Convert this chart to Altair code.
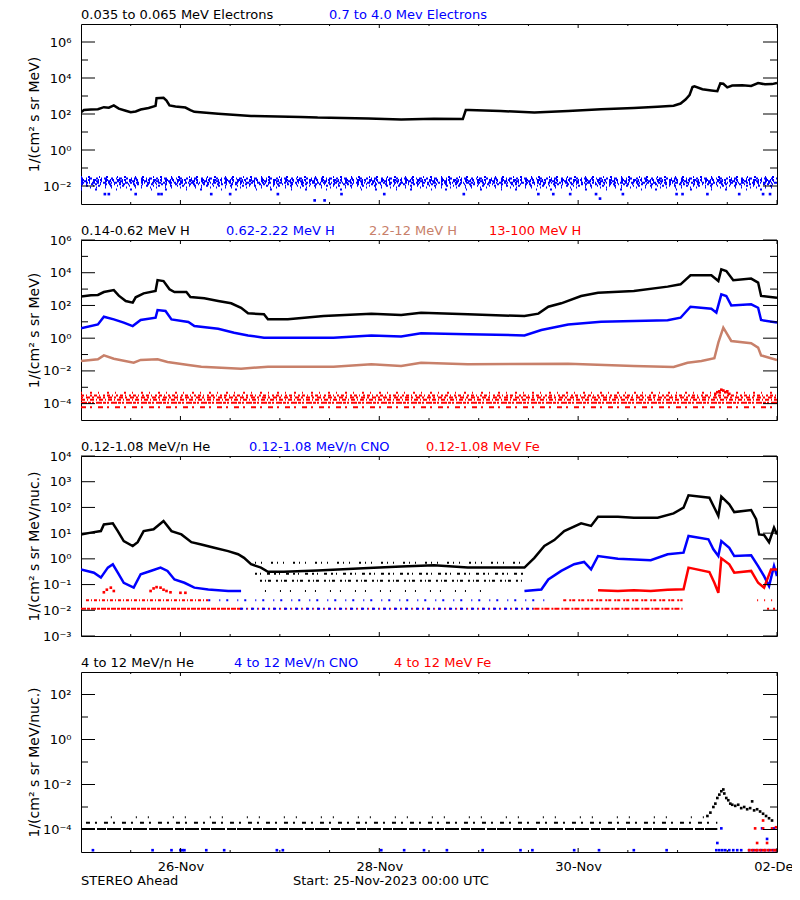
import altair as alt
import pandas as pd

FONT = "DejaVu Sans"
BLACK, BLUE, BROWN, RED = "#000000", "#0000ff", "#c8806a", "#ff0000"
W, H = 696, 180

# ---------------- text ----------------
X_MAJOR_DAYS = [1, 3, 5, 7]
X_MAJOR_LABELS = ["26-Nov", "28-Nov", "30-Nov", "02-Dec"]
X_MINOR_DAYS = [0.5, 1.5, 2, 2.5, 3.5, 4, 4.5, 5.5, 6, 6.5]
FOOTER_TEXTS = ["STEREO Ahead", "Start: 25-Nov-2023 00:00 UTC"]
HEAD1 = ["0.035 to 0.065 MeV Electrons", "0.7 to 4.0 Mev Electrons"]
HEAD2 = ["0.14-0.62 MeV H", "0.62-2.22 MeV H", "2.2-12 MeV H", "13-100 MeV H"]
HEAD3 = ["0.12-1.08 MeV/n He", "0.12-1.08 MeV/n CNO", "0.12-1.08 MeV Fe"]
HEAD4 = ["4 to 12 MeV/n He", "4 to 12 MeV/n CNO", "4 to 12 MeV Fe"]
YTITLE_A = "1/(cm² s sr MeV)"
YTITLE_B = "1/(cm² s sr MeV/nuc.)"

# ---------------- data (day since 25-Nov-2023 00:00, log10 flux) ----------------
# Panel 1 : electrons
E_LO_DAYS = [0.0, 0.03, 0.10, 0.17, 0.23, 0.28, 0.33, 0.38, 0.45, 0.50, 0.55, 0.60, 0.68, 0.75, 0.76,
             0.83, 0.86, 0.89, 0.95, 1.05, 1.10, 1.14, 1.38, 1.71, 2.21, 2.38, 2.89, 3.22, 3.55, 3.84,
             3.87, 3.90, 4.22, 4.56, 4.90, 5.23, 5.56, 5.80, 5.96, 6.03, 6.08, 6.12, 6.15, 6.17, 6.25,
             6.34, 6.40, 6.43, 6.46, 6.50, 6.55, 6.65, 6.74, 6.81, 6.88, 6.95, 7.0]
E_LO_LOG = [2.10, 2.22, 2.25, 2.27, 2.38, 2.35, 2.48, 2.30, 2.18, 2.10, 2.14, 2.25, 2.33, 2.45, 2.88,
            2.90, 2.75, 2.48, 2.42, 2.36, 2.22, 2.12, 2.02, 1.89, 1.84, 1.80, 1.75, 1.70, 1.73, 1.72,
            2.22, 2.22, 2.17, 2.08, 2.16, 2.27, 2.33, 2.40, 2.46, 2.58, 2.80, 3.05, 3.50, 3.54, 3.38,
            3.31, 3.27, 3.70, 3.68, 3.48, 3.58, 3.60, 3.56, 3.72, 3.65, 3.66, 3.73]
E_HI_ROW_LEVELS = [-1.50, -1.58, -1.66, -1.74, -1.82, -1.90, -1.98, -2.08, -2.20]
E_HI_OUT_DAYS = [0.24, 0.28, 0.55, 0.78, 0.81, 1.31, 1.50, 1.98, 2.35, 2.45, 2.62, 3.05, 3.85,
                 4.60, 4.75, 4.92, 5.18, 5.22, 5.45, 5.99, 6.05, 6.30, 6.62, 6.86, 6.93]
E_HI_OUT_LOG = [-2.45, -2.45, -2.45, -2.45, -2.45, -2.45, -2.45, -2.45, -2.80, -2.80, -2.45, -2.45, -2.45,
                -2.45, -2.45, -2.45, -2.45, -2.70, -2.45, -2.45, -2.45, -2.45, -2.45, -2.45, -2.45]

# Panel 2 : protons
H1_DAYS = [0.0, 0.10, 0.17, 0.23, 0.33, 0.38, 0.45, 0.52, 0.55, 0.63, 0.75, 0.77, 0.83, 0.89, 0.94,
           1.06, 1.10, 1.24, 1.38, 1.51, 1.61, 1.68, 1.84, 1.88, 2.08, 2.44, 2.92, 3.22, 3.42, 3.89,
           4.46, 4.60, 4.70, 4.83, 5.03, 5.20, 5.56, 5.90, 6.03, 6.13, 6.34, 6.41, 6.44, 6.49, 6.56,
           6.74, 6.81, 6.84, 7.0]
H1_LOG = [2.55, 2.62, 2.64, 2.82, 2.94, 2.60, 2.27, 2.17, 2.50, 2.74, 2.88, 3.55, 3.49, 2.99, 2.82,
          2.82, 2.52, 2.44, 2.27, 2.13, 1.86, 1.52, 1.46, 1.15, 1.15, 1.35, 1.50, 1.42, 1.56, 1.46,
          1.35, 1.50, 1.92, 2.13, 2.58, 2.78, 2.88, 3.15, 3.29, 3.84, 3.84, 3.49, 4.21, 4.10, 3.54,
          3.64, 3.40, 2.58, 2.47]
H2_DAYS = [0.0, 0.17, 0.23, 0.33, 0.43, 0.52, 0.60, 0.75, 0.77, 0.85, 0.91, 1.08, 1.14, 1.38, 1.54,
           1.68, 1.84, 2.54, 2.92, 3.22, 3.42, 3.89, 4.46, 4.63, 4.90, 5.23, 5.90, 6.03, 6.13, 6.34,
           6.39, 6.44, 6.49, 6.54, 6.74, 6.81, 6.84, 7.0]
H2_LOG = [0.60, 0.84, 1.31, 1.15, 0.95, 0.74, 1.11, 1.25, 1.72, 1.66, 1.15, 0.99, 0.74, 0.58, 0.33,
          0.17, 0.03, 0.03, 0.17, 0.10, 0.30, 0.24, 0.17, 0.50, 0.84, 1.00, 1.09, 1.25, 1.92, 1.80,
          1.56, 2.68, 2.58, 2.00, 2.07, 1.86, 1.11, 0.95]
H3_DAYS = [0.0, 0.17, 0.23, 0.33, 0.53, 0.60, 0.77, 0.87, 1.08, 1.21, 1.61, 1.88, 2.54, 2.92, 3.22,
           3.42, 3.89, 4.90, 5.56, 5.96, 6.10, 6.24, 6.37, 6.41, 6.46, 6.54, 6.74, 6.81, 6.84, 7.0]
H3_LOG = [-1.40, -1.29, -1.05, -1.26, -1.50, -1.33, -1.29, -1.46, -1.64, -1.74, -1.87, -1.74, -1.74,
          -1.60, -1.70, -1.50, -1.60, -1.56, -1.70, -1.76, -1.50, -1.40, -1.23, -0.27, 0.64, -0.17,
          -0.31, -0.58, -1.05, -1.33]
H4_ROW_LEVELS = [-3.33, -3.50, -3.62, -3.76, -3.95, -4.22]
H4_SPIKE_DAYS = [6.38, 6.40, 6.42, 6.44, 6.46, 6.48, 6.50, 6.52]
H4_SPIKE_LOG = [-3.40, -3.30, -3.25, -3.15, -3.20, -3.30, -3.25, -3.40]

# Panel 3 : low-energy heavy ions
HE_DAYS = [0.0, 0.10, 0.20, 0.23, 0.32, 0.37, 0.43, 0.52, 0.57, 0.63, 0.73, 0.83, 0.91, 1.01, 1.11,
           1.21, 1.34, 1.48, 1.58, 1.64, 1.71, 1.81, 1.88, 2.04, 2.38, 2.89, 3.22, 3.55, 3.89, 4.22,
           4.46, 4.56, 4.66, 4.76, 4.86, 5.03, 5.13, 5.20, 5.40, 5.56, 5.80, 5.96, 6.06, 6.11, 6.32,
           6.37, 6.41, 6.44, 6.52, 6.57, 6.74, 6.79, 6.82, 6.87, 6.92, 6.97, 7.0]
HE_LOG = [0.95, 1.02, 1.08, 1.34, 1.38, 1.08, 0.69, 0.50, 0.65, 1.08, 1.15, 1.47, 1.08, 0.95, 0.65,
          0.56, 0.43, 0.30, 0.18, 0.04, -0.21, -0.34, -0.50, -0.50, -0.45, -0.36, -0.30, -0.25, -0.34,
          -0.34, -0.34, 0.04, 0.50, 0.73, 1.08, 1.38, 1.28, 1.64, 1.64, 1.60, 1.60, 1.77, 1.99, 2.47,
          2.38, 1.99, 1.67, 2.42, 2.12, 1.82, 1.90, 1.54, 0.95, 0.93, 0.65, 1.21, 0.95]
CNO_A_DAYS = [0.0, 0.13, 0.20, 0.27, 0.32, 0.37, 0.43, 0.53, 0.60, 0.70, 0.80, 0.87, 0.94, 1.04,
              1.14, 1.28, 1.48, 1.61]
CNO_A_LOG = [-0.41, -0.54, -0.73, -0.34, -0.21, -0.54, -0.93, -1.12, -0.60, -0.47, -0.34, -0.47,
             -0.80, -0.93, -1.12, -1.19, -1.25, -1.25]
CNO_B_DAYS = [4.46, 4.63, 4.70, 4.83, 4.96, 5.06, 5.13, 5.20, 5.40, 5.73, 5.90, 6.06, 6.11, 6.31,
              6.36, 6.41, 6.44, 6.52, 6.57, 6.74, 6.81, 6.87, 6.92, 6.97, 7.0]
CNO_B_LOG = [-1.25, -1.19, -0.80, -0.47, -0.21, -0.12, -0.41, 0.11, 0.00, -0.05, 0.18, 0.24, 0.89,
             0.76, 0.37, 0.11, 0.69, 0.43, 0.11, 0.14, -0.28, -0.67, -1.06, -0.28, -0.67]
FE_DAYS = [5.20, 5.40, 5.56, 5.73, 5.90, 6.06, 6.11, 6.32, 6.37, 6.41, 6.44, 6.52, 6.57, 6.74, 6.81,
           6.87, 6.94, 7.0]
FE_LOG = [-1.22, -1.25, -1.22, -1.25, -1.20, -1.18, -0.34, -0.51, -0.93, -1.32, 0.02, -0.21, -0.54,
          -0.47, -0.93, -1.12, -0.41, -0.41]
FE_EARLY_DAYS = [0.23, 0.26, 0.30, 0.33, 0.70, 0.73, 0.76, 0.80, 0.83, 0.86, 0.90, 1.00, 1.05]
FE_EARLY_LOG = [-1.30, -1.20, -1.12, -1.25, -1.25, -1.15, -1.10, -1.12, -1.20, -1.25, -1.30, -1.32, -1.32]
# quantised count levels: (start day, end day, log10 level)
HE_ROWS = [(1.75, 4.45, -0.15), (1.75, 4.45, -0.58), (1.80, 4.45, -0.85), (1.85, 4.05, -1.25)]
FE_ROWS = [(0.05, 1.28, -1.61), (4.85, 6.05, -1.61), (6.80, 7.00, -1.61),
           (0.00, 1.60, -1.94), (1.60, 4.56, -1.94), (4.56, 6.05, -1.94), (6.90, 6.98, -1.94)]
CNO_ROWS = [(1.28, 4.70, -1.61), (1.60, 4.56, -1.94)]

# Panel 4 : high-energy heavy ions
HE4_ROWS = [(0.30, 6.30, -3.45), (0.05, 6.40, -3.70), (0.00, 6.40, -3.98)]
HE4_EV_DAYS = [6.30, 6.33, 6.36, 6.38, 6.40, 6.42, 6.44, 6.46, 6.47, 6.49, 6.51, 6.53, 6.55, 6.58,
               6.61, 6.64, 6.67, 6.70, 6.73, 6.75, 6.77, 6.80, 6.83, 6.86, 6.89, 6.92, 6.95]
HE4_EV_LOG = [-3.40, -3.25, -3.00, -2.85, -2.60, -2.45, -2.30, -2.22, -2.40, -2.60, -2.70, -2.85,
              -2.90, -2.95, -2.90, -3.05, -3.00, -3.10, -3.05, -2.75, -3.15, -3.10, -3.20, -3.30,
              -3.40, -3.50, -3.60]
CNO4_DAYS = [0.12, 0.72, 0.91, 1.00, 1.02, 1.04, 1.26, 1.44, 1.97, 2.03, 3.02, 3.25, 3.45, 3.68,
             4.04, 4.42, 4.54, 4.96, 5.21, 5.56, 5.89, 6.39, 6.42, 6.45, 6.48, 6.52, 6.56, 6.60,
             6.64, 6.72, 6.76, 6.80, 6.84, 6.88, 6.92, 6.96, 6.99, 6.40, 6.44, 6.85, 6.90, 6.97]
CNO4_LOG = [-4.92, -4.92, -4.92, -4.92, -4.92, -4.92, -4.92, -4.92, -4.92, -4.92, -4.92, -4.92,
            -4.92, -4.92, -4.92, -4.92, -4.92, -4.92, -4.92, -4.92, -4.92, -4.92, -4.92, -4.92,
            -4.92, -4.92, -4.92, -4.92, -4.92, -4.92, -4.92, -4.92, -4.92, -4.92, -4.92, -4.92,
            -4.92, -4.60, -3.95, -3.95, -4.42, -3.95]
FE4_DAYS = [6.72, 6.75, 6.78, 6.80, 6.83, 6.86, 6.88, 6.91, 6.94, 6.97, 6.99, 6.80, 6.90, 6.78,
            6.86, 6.95, 6.99, 6.86]
FE4_LOG = [-4.92, -4.92, -4.92, -4.92, -4.92, -4.92, -4.92, -4.92, -4.92, -4.92, -4.92, -4.60,
           -4.60, -3.95, -3.95, -3.95, -3.90, -3.60]

# ---------------- styles ----------------
E_HI_DASHES = [[1, 6, 2, 9], [2, 3, 1, 2, 3, 4], [3, 2, 1, 1, 2, 3], [2, 1, 3, 2, 1, 3],
               [3, 2, 2, 1, 1, 2], [2, 3, 1, 4, 2, 2], [1, 4, 2, 5], [1, 8, 1, 5], [1, 13, 2, 19]]
H4_DASHES = [[1, 8, 2, 6], [3, 2, 1, 3, 2, 2], [2, 3, 4, 2], [4, 2, 1, 2], [6, 1, 3, 1, 2, 2], [5, 4, 2, 6]]
HE_DASHES = [[1, 5, 1, 9, 2, 4], [2, 3, 1, 6, 3, 4], [2, 3, 1, 2, 3, 5], [1, 14, 1, 9]]
FE_DASHES = [[3, 2, 1, 2], [3, 3, 2, 1], [1, 6], [5, 1, 3, 1], [2, 5, 1, 3], [5, 2, 2, 1], [2, 4]]
CNO_DASHES = [[2, 9, 1, 6], [3, 3, 1, 4]]
HE4_DASHES = [[1, 24, 1, 11], [4, 5, 2, 7], [14, 2, 9, 1]]
HEAD_X = [[0, 248], [0, 145, 288, 408], [0, 168, 345], [0, 153, 313]]
FOOT_X = [0, 212]

SUP = str.maketrans("0123456789-", "⁰¹²³⁴⁵⁶⁷⁸⁹⁻")


def y_axis(labeled, title):
    expr = " : ".join(
        f"abs(log(datum.value)/LN10-({e}))<0.01 ? '10{str(e).translate(SUP)}'" for e in labeled
    ) + " : ''"
    return alt.Axis(values=[10.0 ** e for e in labeled], labelExpr=expr, ticks=False, tickSize=0,
                    domain=False, grid=False, labelFont=FONT, labelFontSize=13, labelColor=BLACK,
                    labelPadding=10, labelOverlap=False, labelFlush=False, title=title,
                    titleFont=FONT, titleFontSize=14, titleFontWeight="normal", titleColor=BLACK,
                    titlePadding=0, minExtent=40, maxExtent=40)


X_EXPR = " : ".join(f"datum.value=={d} ? '{l}'" for d, l in zip(X_MAJOR_DAYS, X_MAJOR_LABELS)) + " : ''"
X_AXIS = alt.Axis(values=X_MAJOR_DAYS, labelExpr=X_EXPR, ticks=False, tickSize=0, domain=False,
                  grid=False, labelFont=FONT, labelFontSize=13, labelColor=BLACK, labelPadding=8,
                  labelFlush=False, labelOverlap=False, title=None)


def X(axis):
    return alt.X("d:Q", scale=alt.Scale(domain=[0, 7], nice=False, zero=False), axis=axis)


def Y(dom, axis):
    return alt.Y("v:Q", scale=alt.Scale(type="log", domain=[10.0 ** dom[0], 10.0 ** dom[1]], nice=False),
                 axis=axis)


def panel(dom, yaxis, xaxis, lines, rows, points, heads, head_x, major, minor, footer=False):
    layers = []
    for s, e, lv, col, dash in rows:
        df = pd.DataFrame({"d": [s], "d2": [e], "v": [10.0 ** lv]})
        layers.append(alt.Chart(df).mark_rule(color=col, strokeWidth=2, strokeDash=dash, clip=True)
                      .encode(x=X(xaxis), x2="d2:Q", y=Y(dom, yaxis)))
    for days, logs, col, sw in lines:
        df = pd.DataFrame({"d": days, "v": [10.0 ** l for l in logs]})
        layers.append(alt.Chart(df).mark_line(color=col, strokeWidth=sw, clip=True)
                      .encode(x=X(xaxis), y=Y(dom, yaxis)))
    for days, logs, col in points:
        df = pd.DataFrame({"d": days, "v": [10.0 ** l for l in logs]})
        layers.append(alt.Chart(df).mark_square(color=col, size=7, opacity=1, clip=True)
                      .encode(x=X(xaxis), y=Y(dom, yaxis)))
    # inward ticks
    for exps, ln in ((major, 14), (minor, 7)):
        if exps:
            df = pd.DataFrame({"v": [10.0 ** e for e in exps]})
            for x0, x1 in ((0, ln), (W, W - ln)):
                layers.append(alt.Chart(df).mark_rule(color=BLACK, strokeWidth=1)
                              .encode(y=Y(dom, yaxis), x=alt.value(x0), x2=alt.value(x1)))
    for days, ln in ((X_MAJOR_DAYS, 4), (X_MINOR_DAYS, 2)):
        df = pd.DataFrame({"d": days})
        for y0, y1 in ((0, ln), (H, H - ln)):
            layers.append(alt.Chart(df).mark_rule(color=BLACK, strokeWidth=1)
                          .encode(x=X(xaxis), y=alt.value(y0), y2=alt.value(y1)))
    for (txt, col), xo in zip(heads, head_x):
        layers.append(alt.Chart(pd.DataFrame({"t": [txt]})).mark_text(
            align="left", baseline="middle", x=xo, y=-9, font=FONT, fontSize=13, color=col)
            .encode(text="t:N"))
    if footer:
        for txt, xo in zip(FOOTER_TEXTS, FOOT_X):
            layers.append(alt.Chart(pd.DataFrame({"t": [txt]})).mark_text(
                align="left", baseline="middle", x=xo, y=H + 29, font=FONT, fontSize=13, color=BLACK)
                .encode(text="t:N"))
    return alt.layer(*layers).properties(width=W, height=H)


# Panel 1
dom1 = (-3, 7)
rows1 = [(0, 7, lv, BLUE, d) for lv, d in zip(E_HI_ROW_LEVELS, E_HI_DASHES)]
p1 = panel(dom1, y_axis([6, 4, 2, 0, -2], YTITLE_A), None,
           [(E_LO_DAYS, E_LO_LOG, BLACK, 2.5)], rows1,
           [(E_HI_OUT_DAYS, E_HI_OUT_LOG, BLUE)],
           list(zip(HEAD1, [BLACK, BLUE])), HEAD_X[0], [6, 4, 2, 0, -2], [5, 3, 1, -1])

# Panel 2
dom2 = (-5, 6)
rows2 = [(0, 7, lv, RED, d) for lv, d in zip(H4_ROW_LEVELS, H4_DASHES)]
p2 = panel(dom2, y_axis([6, 4, 2, 0, -2, -4], YTITLE_A), None,
           [(H1_DAYS, H1_LOG, BLACK, 2.5), (H2_DAYS, H2_LOG, BLUE, 2.5), (H3_DAYS, H3_LOG, BROWN, 2.5)],
           rows2, [(H4_SPIKE_DAYS, H4_SPIKE_LOG, RED)],
           list(zip(HEAD2, [BLACK, BLUE, BROWN, RED])), HEAD_X[1], [6, 4, 2, 0, -2, -4], [5, 3, 1, -1, -3])

# Panel 3
dom3 = (-3, 4)
rows3 = ([(s, e, lv, BLACK, d) for (s, e, lv), d in zip(HE_ROWS, HE_DASHES)]
         + [(s, e, lv, RED, d) for (s, e, lv), d in zip(FE_ROWS, FE_DASHES)]
         + [(s, e, lv, BLUE, d) for (s, e, lv), d in zip(CNO_ROWS, CNO_DASHES)])
p3 = panel(dom3, y_axis([4, 3, 2, 1, 0, -1, -2, -3], YTITLE_B), None,
           [(HE_DAYS, HE_LOG, BLACK, 2.5), (CNO_A_DAYS, CNO_A_LOG, BLUE, 2.5),
            (CNO_B_DAYS, CNO_B_LOG, BLUE, 2.5), (FE_DAYS, FE_LOG, RED, 2.5)],
           rows3, [(FE_EARLY_DAYS, FE_EARLY_LOG, RED)],
           list(zip(HEAD3, [BLACK, BLUE, RED])), HEAD_X[2], [4, 3, 2, 1, 0, -1, -2, -3], [])

# Panel 4
dom4 = (-5, 3)
rows4 = [(s, e, lv, BLACK, d) for (s, e, lv), d in zip(HE4_ROWS, HE4_DASHES)]
p4 = panel(dom4, y_axis([2, 0, -2, -4], YTITLE_B), X_AXIS,
           [], rows4,
           [(HE4_EV_DAYS, HE4_EV_LOG, BLACK), (CNO4_DAYS, CNO4_LOG, BLUE), (FE4_DAYS, FE4_LOG, RED)],
           list(zip(HEAD4, [BLACK, BLUE, RED])), HEAD_X[3], [2, 0, -2, -4], [1, -1, -3], footer=True)

chart = (alt.vconcat(p1, p2, p3, p4, spacing=36, bounds="flush")
         .properties(padding={"left": 18, "top": 0, "right": -9, "bottom": -1}, background="white")
         .configure_view(stroke=BLACK, strokeWidth=1))

chart.save("out.html", embed_options={"renderer": "svg", "actions": False})
